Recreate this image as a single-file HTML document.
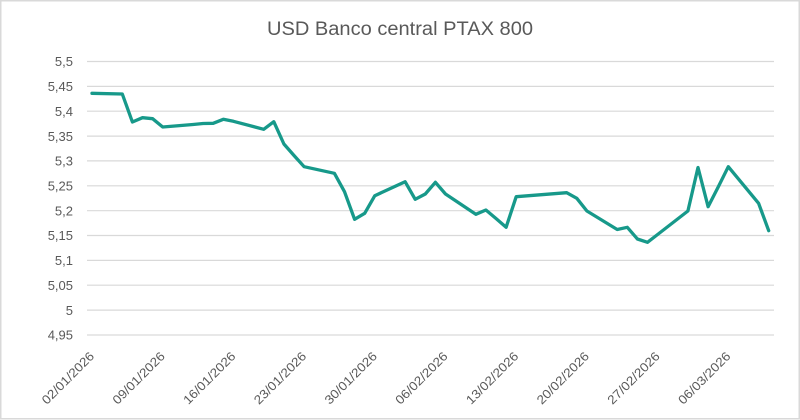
<!DOCTYPE html>
<html><head><meta charset="utf-8"><style>
html,body{margin:0;padding:0;background:#fff;}
svg{display:block;}
text{font-family:"Liberation Sans",sans-serif;fill:#595959;}
</style></head><body>
<svg width="800" height="420" viewBox="0 0 800 420" xmlns="http://www.w3.org/2000/svg">
<rect x="0" y="0" width="800" height="420" fill="#fff"/>
<rect x="0.75" y="0.75" width="798.5" height="418" fill="none" stroke="#d9d9d9" stroke-width="1.5"/>
<text x="400" y="35" font-size="19" text-anchor="middle" textLength="266" lengthAdjust="spacingAndGlyphs">USD Banco central PTAX 800</text>
<g stroke="#d9d9d9" stroke-width="1.2">
<line x1="87" x2="774" y1="61.5" y2="61.5"/>
<line x1="87" x2="774" y1="86.4" y2="86.4"/>
<line x1="87" x2="774" y1="111.2" y2="111.2"/>
<line x1="87" x2="774" y1="136.1" y2="136.1"/>
<line x1="87" x2="774" y1="160.9" y2="160.9"/>
<line x1="87" x2="774" y1="185.8" y2="185.8"/>
<line x1="87" x2="774" y1="210.7" y2="210.7"/>
<line x1="87" x2="774" y1="235.5" y2="235.5"/>
<line x1="87" x2="774" y1="260.4" y2="260.4"/>
<line x1="87" x2="774" y1="285.2" y2="285.2"/>
<line x1="87" x2="774" y1="310.1" y2="310.1"/>
<line x1="87" x2="774" y1="335" y2="335"/>
</g>
<g font-size="13" text-anchor="end">
<text x="73" y="66.2">5,5</text>
<text x="73" y="91.1">5,45</text>
<text x="73" y="115.9">5,4</text>
<text x="73" y="140.8">5,35</text>
<text x="73" y="165.6">5,3</text>
<text x="73" y="190.5">5,25</text>
<text x="73" y="215.4">5,2</text>
<text x="73" y="240.2">5,15</text>
<text x="73" y="265.1">5,1</text>
<text x="73" y="289.9">5,05</text>
<text x="73" y="314.8">5</text>
<text x="73" y="339.7">4,95</text>
</g>
<g font-size="12.5" text-anchor="end">
<text transform="translate(95,357) rotate(-45)" textLength="68" lengthAdjust="spacingAndGlyphs">02/01/2026</text>
<text transform="translate(165.7,357) rotate(-45)" textLength="68" lengthAdjust="spacingAndGlyphs">09/01/2026</text>
<text transform="translate(236.4,357) rotate(-45)" textLength="68" lengthAdjust="spacingAndGlyphs">16/01/2026</text>
<text transform="translate(307.1,357) rotate(-45)" textLength="68" lengthAdjust="spacingAndGlyphs">23/01/2026</text>
<text transform="translate(377.8,357) rotate(-45)" textLength="68" lengthAdjust="spacingAndGlyphs">30/01/2026</text>
<text transform="translate(448.5,357) rotate(-45)" textLength="68" lengthAdjust="spacingAndGlyphs">06/02/2026</text>
<text transform="translate(519.2,357) rotate(-45)" textLength="68" lengthAdjust="spacingAndGlyphs">13/02/2026</text>
<text transform="translate(589.9,357) rotate(-45)" textLength="68" lengthAdjust="spacingAndGlyphs">20/02/2026</text>
<text transform="translate(660.6,357) rotate(-45)" textLength="68" lengthAdjust="spacingAndGlyphs">27/02/2026</text>
<text transform="translate(731.3,357) rotate(-45)" textLength="68" lengthAdjust="spacingAndGlyphs">06/03/2026</text>
</g>
<polyline fill="none" stroke="#17998a" stroke-width="3.3" stroke-linejoin="round" stroke-linecap="round" points="
92,93.3 122.3,94 132.4,122 142.5,117.7 152.6,118.7 162.7,127 193,124.5 203.1,123.5 213.2,123.3 223.3,119.3 233.4,121.3
263.7,129.3 273.8,121.7 283.9,144 294,155.5 304.1,166.7 334.4,173.3 344.5,191.7 354.6,219.3 364.7,213.3 374.8,195.7
405.1,181.7 415.2,199.3 425.3,194 435.4,182.3 445.5,194 475.8,214.3 485.9,210 496,218.5 506.1,227.3 516.2,196.7
566.7,192.7 576.8,198.3 586.9,211 617.2,229.5 627.3,227.3 637.4,239 647.5,242.3 657.6,234.5
687.9,211 698,167.5 708.1,206.7 718.2,187 728.3,166.7 758.6,203.3 768.7,230.7"/>
</svg>
</body></html>
